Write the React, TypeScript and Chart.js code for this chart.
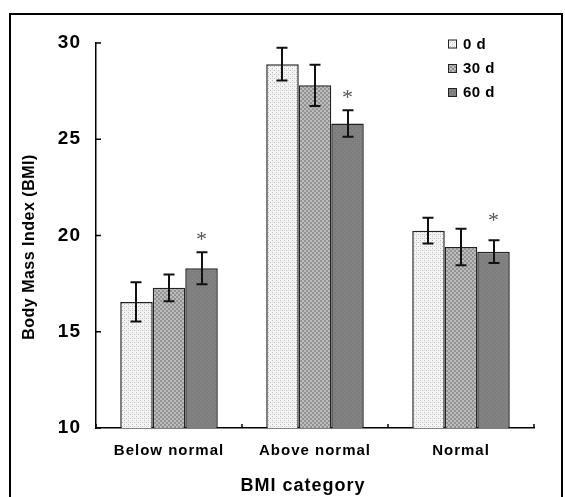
import React, { useEffect, useRef } from 'react';
import { Chart, registerables } from 'chart.js';

Chart.register(...registerables);

const categories = ['Below normal', 'Above normal', 'Normal'];
const seriesLabels = ['0 d', '30 d', '60 d'];
const values0d = [16.55, 28.9, 20.25];
const values30d = [17.28, 27.8, 19.4];
const values60d = [18.3, 25.82, 19.16];
const errors0d = [1.02, 0.85, 0.67];
const errors30d = [0.7, 1.07, 0.95];
const errors60d = [0.83, 0.69, 0.59];
const significanceY = [20.0, 27.35, 20.98];
const yTicks = [10, 15, 20, 25, 30];
const yTitle = 'Body Mass Index (BMI)';
const xTitle = 'BMI category';

const FONT = '"Liberation Sans", Arial, sans-serif';

function makePattern(ctx: CanvasRenderingContext2D, kind: number): CanvasPattern | string {
  const c = document.createElement('canvas');
  c.width = 4;
  c.height = 4;
  const p = c.getContext('2d');
  if (!p) return '#aaa';
  if (kind === 0) {
    p.fillStyle = '#f3f3f3';
    p.fillRect(0, 0, 4, 4);
    p.fillStyle = '#bdbdbd';
    p.fillRect(0, 0, 1, 1);
    p.fillRect(2, 2, 1, 1);
    p.fillStyle = '#d8d8d8';
    p.fillRect(0, 2, 1, 1);
  } else if (kind === 1) {
    p.fillStyle = '#bcbcbc';
    p.fillRect(0, 0, 4, 4);
    p.fillStyle = '#929292';
    p.fillRect(0, 0, 2, 2);
    p.fillRect(2, 2, 2, 2);
  } else {
    p.fillStyle = '#7e7e7e';
    p.fillRect(0, 0, 4, 4);
    p.fillStyle = '#8c8c8c';
    p.fillRect(0, 0, 1, 1);
    p.fillRect(2, 2, 1, 1);
  }
  return ctx.createPattern(c, 'repeat') || '#aaa';
}

export default function App() {
  const canvasRef = useRef<HTMLCanvasElement | null>(null);

  useEffect(() => {
    const canvas = canvasRef.current;
    if (!canvas) return;
    const ctx0 = canvas.getContext('2d');
    if (!ctx0) return;
    const patterns = [makePattern(ctx0, 0), makePattern(ctx0, 1), makePattern(ctx0, 2)];
    const values = [values0d, values30d, values60d];
    const errors = [errors0d, errors30d, errors60d];

    const decor = {
      id: 'decor',
      beforeDraw(chart: any) {
        const ctx = chart.ctx;
        ctx.save();
        ctx.fillStyle = '#ffffff';
        ctx.fillRect(0, 0, chart.width, chart.height);
        ctx.strokeStyle = '#000';
        ctx.lineWidth = 2;
        ctx.strokeRect(10, 14, 552, 520);
        ctx.restore();
        ctx.letterSpacing = '1px';
      },
      afterDatasetsDraw(chart: any) {
        const ctx = chart.ctx;
        const yScale = chart.scales.y;
        ctx.save();
        ctx.letterSpacing = '0px';
        ctx.strokeStyle = '#111';
        ctx.lineWidth = 2;
        for (let di = 0; di < 3; di++) {
          const meta = chart.getDatasetMeta(di);
          meta.data.forEach((bar: any, i: number) => {
            const x = Math.round(bar.x);
            const yTop = yScale.getPixelForValue(values[di][i] + errors[di][i]);
            const yBot = yScale.getPixelForValue(values[di][i] - errors[di][i]);
            ctx.beginPath();
            ctx.moveTo(x, yTop);
            ctx.lineTo(x, yBot);
            ctx.moveTo(x - 5.5, yTop);
            ctx.lineTo(x + 5.5, yTop);
            ctx.moveTo(x - 5.5, yBot);
            ctx.lineTo(x + 5.5, yBot);
            ctx.stroke();
          });
        }
        // significance asterisks above the 60 d bars
        const meta60 = chart.getDatasetMeta(2);
        ctx.fillStyle = '#555';
        ctx.font = '22px "Liberation Serif", "Times New Roman", serif';
        ctx.textAlign = 'center';
        ctx.textBaseline = 'alphabetic';
        const m = ctx.measureText('*');
        const off = (m.actualBoundingBoxAscent - m.actualBoundingBoxDescent) / 2;
        meta60.data.forEach((bar: any, i: number) => {
          const y = yScale.getPixelForValue(significanceY[i]);
          ctx.fillText('*', bar.x, y + off);
        });
        ctx.restore();
      },
      afterDraw(chart: any) {
        const ctx = chart.ctx;
        const xScale = chart.scales.x;
        const yScale = chart.scales.y;
        const area = chart.chartArea;
        ctx.save();
        ctx.letterSpacing = '0px';
        ctx.strokeStyle = '#000';
        ctx.lineWidth = 1.5;
        // inward y ticks
        yTicks.forEach((v) => {
          const y = yScale.getPixelForValue(v);
          ctx.beginPath();
          ctx.moveTo(area.left, y);
          ctx.lineTo(area.left + 5, y);
          ctx.stroke();
        });
        // inward x ticks at category boundaries
        const w = xScale.getPixelForValue(1) - xScale.getPixelForValue(0);
        for (let i = 0; i <= categories.length; i++) {
          const x = xScale.getPixelForValue(0) - w / 2 + i * w;
          ctx.beginPath();
          ctx.moveTo(x, area.bottom);
          ctx.lineTo(x, area.bottom - 4);
          ctx.stroke();
        }
        // axis titles
        ctx.fillStyle = '#000';
        ctx.textAlign = 'center';
        ctx.textBaseline = 'middle';
        ctx.font = `bold 16px ${FONT}`;
        ctx.letterSpacing = '0.5px';
        ctx.save();
        ctx.translate(30, 247);
        ctx.rotate(-Math.PI / 2);
        ctx.fillText(yTitle, 0, 0);
        ctx.restore();
        ctx.font = `bold 18px ${FONT}`;
        ctx.letterSpacing = '1px';
        ctx.fillText(xTitle, 303, 486);
        // legend
        const rows = [44, 68.5, 92.5];
        ctx.font = `bold 15px ${FONT}`;
        ctx.letterSpacing = '0.5px';
        ctx.textAlign = 'left';
        seriesLabels.forEach((lab, i) => {
          const y = rows[i];
          ctx.fillStyle = patterns[i] as any;
          ctx.fillRect(448, y - 4.5, 9, 9);
          ctx.strokeStyle = '#222';
          ctx.lineWidth = 1;
          ctx.strokeRect(448.5, y - 4, 8, 8);
          ctx.fillStyle = '#000';
          ctx.fillText(lab, 463, y + 0.5);
        });
        ctx.restore();
        ctx.letterSpacing = '0px';
      },
    };

    const chart = new Chart(canvas, {
      type: 'bar',
      data: {
        labels: categories,
        datasets: seriesLabels.map((label, i) => ({
          label,
          data: values[i],
          backgroundColor: patterns[i] as any,
          borderColor: '#222',
          borderWidth: 1.5,
          categoryPercentage: 0.668,
          barPercentage: 1.0,
        })),
      },
      options: {
        responsive: false,
        animation: false,
        layout: { padding: { top: 43, right: 31, left: 0, bottom: 0 } },
        plugins: {
          legend: { display: false },
          tooltip: { enabled: false },
        },
        scales: {
          x: {
            grid: { display: true, drawOnChartArea: false, drawTicks: false },
            border: { display: true, color: '#000', width: 1.5 },
            ticks: {
              color: '#000',
              padding: 14,
              font: { family: FONT, size: 15, weight: 'bold' },
            },
            afterFit: (s: any) => {
              s.height = 69;
            },
          },
          y: {
            min: 10,
            max: 30,
            grid: { display: true, drawOnChartArea: false, drawTicks: false },
            border: { display: true, color: '#000', width: 1.5 },
            ticks: {
              stepSize: 5,
              color: '#000',
              padding: 15,
              font: { family: FONT, size: 19, weight: 'bold' },
            },
            afterFit: (s: any) => {
              s.width = 96;
            },
          },
        },
      },
      plugins: [decor],
    } as any);

    return () => {
      chart.destroy();
    };
  }, []);

  return (
    <div style={{ position: 'absolute', left: 0, top: 0, width: 565, height: 497, background: '#fff' }}>
      <canvas ref={canvasRef} width={565} height={497} style={{ display: 'block' }} />
    </div>
  );
}
